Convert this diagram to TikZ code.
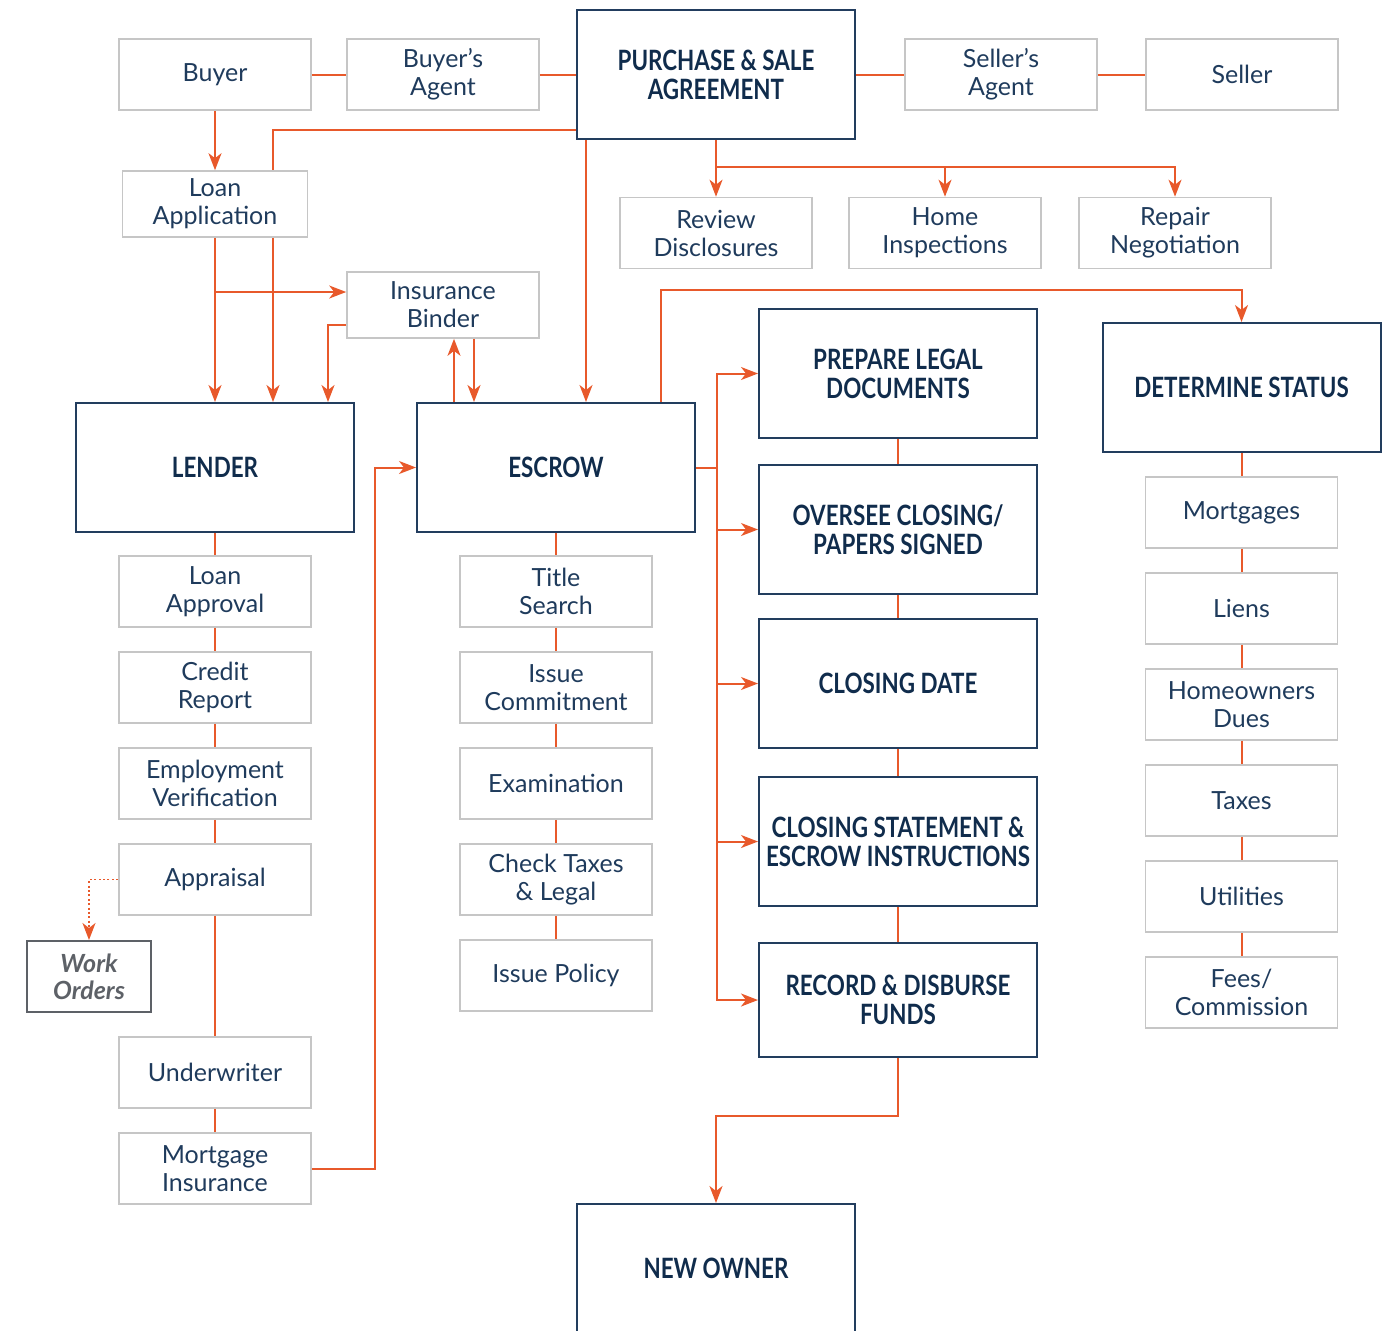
\documentclass[tikz,border=0pt]{standalone}
\usepackage{fontspec}
\setmainfont{Lato}
\newfontfamily\condfont{Lato}[FakeStretch=0.8]
\usepackage{tikz}
\usetikzlibrary{positioning,arrows.meta}
\usepackage{xcolor}
\definecolor{orangeline}{HTML}{E8592B}
\definecolor{navytext}{HTML}{1F3B5C}
\definecolor{navydark}{HTML}{102C4C}
\definecolor{navyline}{HTML}{223D5E}
\definecolor{boxgray}{HTML}{C6C6C6}
\definecolor{notegray}{HTML}{5D6167}
\tikzstyle{smallbox} = [rectangle, draw=boxgray, line width=0.8pt, text=navytext, align=center, minimum width=96pt, minimum height=35.5pt, inner sep=2pt, font=\fontsize{12.5}{14}\selectfont]
\tikzstyle{bigbox} = [rectangle, draw=navyline, line width=1pt, text=navydark, align=center, minimum width=139pt, minimum height=64.5pt, inner sep=2pt, font=\condfont\bfseries\fontsize{14}{14.5}\selectfont]
\tikzstyle{notebox} = [rectangle, draw=notegray, line width=1pt, text=notegray, align=center, minimum width=62pt, minimum height=35.5pt, inner sep=2pt, font=\bfseries\itshape\fontsize{12.5}{13.5}\selectfont]
\tikzstyle{line} = [draw, line width=1pt, color=orangeline, -{Stealth[length=8.5pt,width=6.5pt,inset=2.5pt]}]
\tikzstyle{link} = [draw, line width=1pt, color=orangeline]

\begin{document}
\begin{tikzpicture}[x=0.5pt, y=-0.5pt]
  \useasboundingbox (0,0) rectangle (1395,1330);
  %% agreement
  \node[bigbox] (PSA) at (716,74.5) {PURCHASE \& SALE\\AGREEMENT};
  %% buyer side
  \node[smallbox, left of=PSA, node distance=136.5pt] (BAgent) {Buyer’s\\Agent};
  \node[smallbox, left of=BAgent, node distance=114pt] (Buyer) {Buyer};
  %% seller side
  \node[smallbox, right of=PSA, node distance=142.5pt] (SAgent) {Seller’s\\Agent};
  \node[smallbox, right of=SAgent, node distance=120.5pt] (Seller) {Seller};
  %% loan application
  \node[smallbox, below of=Buyer, node distance=64.75pt, minimum width=92.5pt, minimum height=33pt] (LoanApp) {Loan\\Application};
  %% contingencies
  \node[smallbox, below of=PSA, node distance=79.25pt] (Review) {Review\\Disclosures};
  \node[smallbox, right of=Review, node distance=114.5pt] (Home) {Home\\Inspections};
  \node[smallbox, right of=Home, node distance=115pt] (Repair) {Repair\\Negotiation};
  %% insurance
  \node[smallbox, below of=BAgent, node distance=115.25pt, minimum height=33pt] (IB) {Insurance\\Binder};
  %% lender
  \node[bigbox, below of=LoanApp, node distance=131.75pt] (Lender) {LENDER};
  \node[smallbox, below of=Lender, node distance=62pt] (LApproval) {Loan\\Approval};
  \node[smallbox, below of=LApproval, node distance=48pt] (Credit) {Credit\\Report};
  \node[smallbox, below of=Credit, node distance=48pt] (Employ) {Employment\\Verification};
  \node[smallbox, below of=Employ, node distance=48pt] (Appraisal) {Appraisal};
  \node[smallbox, below of=Appraisal, node distance=96.5pt] (Under) {Underwriter};
  \node[smallbox, below of=Under, node distance=48pt] (MInsure) {Mortgage\\Insurance};
  \node[notebox] (Work) at (89,976.5) {Work\\Orders};
  %% escrow
  \node[bigbox, right of=Lender, node distance=170.5pt] (Escrow) {ESCROW};
  \node[smallbox, below of=Escrow, node distance=62pt] (Title) {Title\\Search};
  \node[smallbox, below of=Title, node distance=48pt] (ICommit) {Issue\\Commitment};
  \node[smallbox, below of=ICommit, node distance=48pt] (Exam) {Examination};
  \node[smallbox, below of=Exam, node distance=48pt] (CheckTax) {Check Taxes\\\& Legal};
  \node[smallbox, below of=CheckTax, node distance=48pt] (IPolicy) {Issue Policy};
  %% closing steps
  \node[bigbox] (Prepare) at (898,373.5) {PREPARE LEGAL\\DOCUMENTS};
  \node[bigbox, below of=Prepare, node distance=78pt] (Oversee) {OVERSEE CLOSING/\\PAPERS SIGNED};
  \node[bigbox, below of=Oversee, node distance=77pt] (CDate) {CLOSING DATE};
  \node[bigbox, below of=CDate, node distance=79pt] (CStatement) {CLOSING STATEMENT \&\\ESCROW INSTRUCTIONS};
  \node[bigbox, below of=CStatement, node distance=79.25pt, minimum height=57pt] (Record) {RECORD \& DISBURSE\\FUNDS};
  \node[bigbox] (NewOwner) at (716,1268.5) {NEW OWNER};
  %% status
  \node[bigbox] (Determine) at (1241.5,387.5) {DETERMINE STATUS};
  \node[smallbox, below of=Determine, node distance=62.5pt] (Mortgages) {Mortgages};
  \node[smallbox, below of=Mortgages, node distance=48pt] (Liens) {Liens};
  \node[smallbox, below of=Liens, node distance=48pt] (HOA) {Homeowners\\Dues};
  \node[smallbox, below of=HOA, node distance=48pt] (Taxes) {Taxes};
  \node[smallbox, below of=Taxes, node distance=48pt] (Util) {Utilities};
  \node[smallbox, below of=Util, node distance=48pt] (Fees) {Fees/\\Commission};
  %% edges
  \path[link] (Buyer) -- (BAgent);
  \path[link] (BAgent) -- (PSA);
  \path[link] (PSA) -- (SAgent);
  \path[link] (SAgent) -- (Seller);
  \path[line] (Buyer) -- (LoanApp);
  \path[link] ([yshift=5pt]PSA.south west) -| ([xshift=29pt]LoanApp.north);
  \path[line] ([xshift=29pt]LoanApp.south) -- ([xshift=29pt]Lender.north);
  \path[line] (LoanApp) -- (Lender);
  \path[line] ([yshift=6.5pt]IB.west -| LoanApp.south) -- ([yshift=6.5pt]IB.west);
  \path[line] ([yshift=-10pt]IB.west) -| ([xshift=56.5pt]Lender.north);
  \path[line] ([xshift=-51pt]Escrow.north) -- ([xshift=-51pt]Escrow.north |- IB.south);
  \path[line] ([xshift=-41pt]Escrow.north |- IB.south) -- ([xshift=-41pt]Escrow.north);
  \path[line] ([xshift=15pt]Escrow.north |- PSA.south) -- ([xshift=15pt]Escrow.north);
  \coordinate (topbus) at ([yshift=-13.5pt]PSA.south);
  \path[line] (PSA) -- (Review);
  \path[line] (topbus) -| (Home);
  \path[line] (topbus) -| (Repair);
  \path[line] ([xshift=52.5pt]Escrow.north) |- ([yshift=16pt]Determine.north) -- (Determine.north);
  \coordinate (sidebus) at ([xshift=10.5pt]Escrow.east);
  \path[link] (Escrow) -- (sidebus);
  \path[line] (sidebus) |- (Prepare);
  \path[line] (sidebus) |- (Oversee);
  \path[line] (sidebus) |- (CDate);
  \path[line] (sidebus) |- (CStatement);
  \path[line] (sidebus) |- (Record);
  \path[link] (Prepare) -- (Oversee);
  \path[link] (Oversee) -- (CDate);
  \path[link] (CDate) -- (CStatement);
  \path[link] (CStatement) -- (Record);
  \path[line] (Record.south) |- ([yshift=43.5pt]NewOwner.north) -- (NewOwner.north);
  \path[link] (Lender) -- (LApproval);
  \path[link] (LApproval) -- (Credit);
  \path[link] (Credit) -- (Employ);
  \path[link] (Employ) -- (Appraisal);
  \path[link] (Appraisal) -- (Under);
  \path[link] (Under) -- (MInsure);
  \path[line, line width=0.8pt, dash pattern=on 1pt off 1.2pt] (Appraisal.west) -| (Work);
  \path[line] (MInsure.east) -| ([xshift=-20.5pt]Escrow.west) -- (Escrow.west);
  \path[link] (Escrow) -- (Title);
  \path[link] (Title) -- (ICommit);
  \path[link] (ICommit) -- (Exam);
  \path[link] (Exam) -- (CheckTax);
  \path[link] (CheckTax) -- (IPolicy);
  \path[link] (Determine) -- (Mortgages);
  \path[link] (Mortgages) -- (Liens);
  \path[link] (Liens) -- (HOA);
  \path[link] (HOA) -- (Taxes);
  \path[link] (Taxes) -- (Util);
  \path[link] (Util) -- (Fees);
\end{tikzpicture}
\end{document}
